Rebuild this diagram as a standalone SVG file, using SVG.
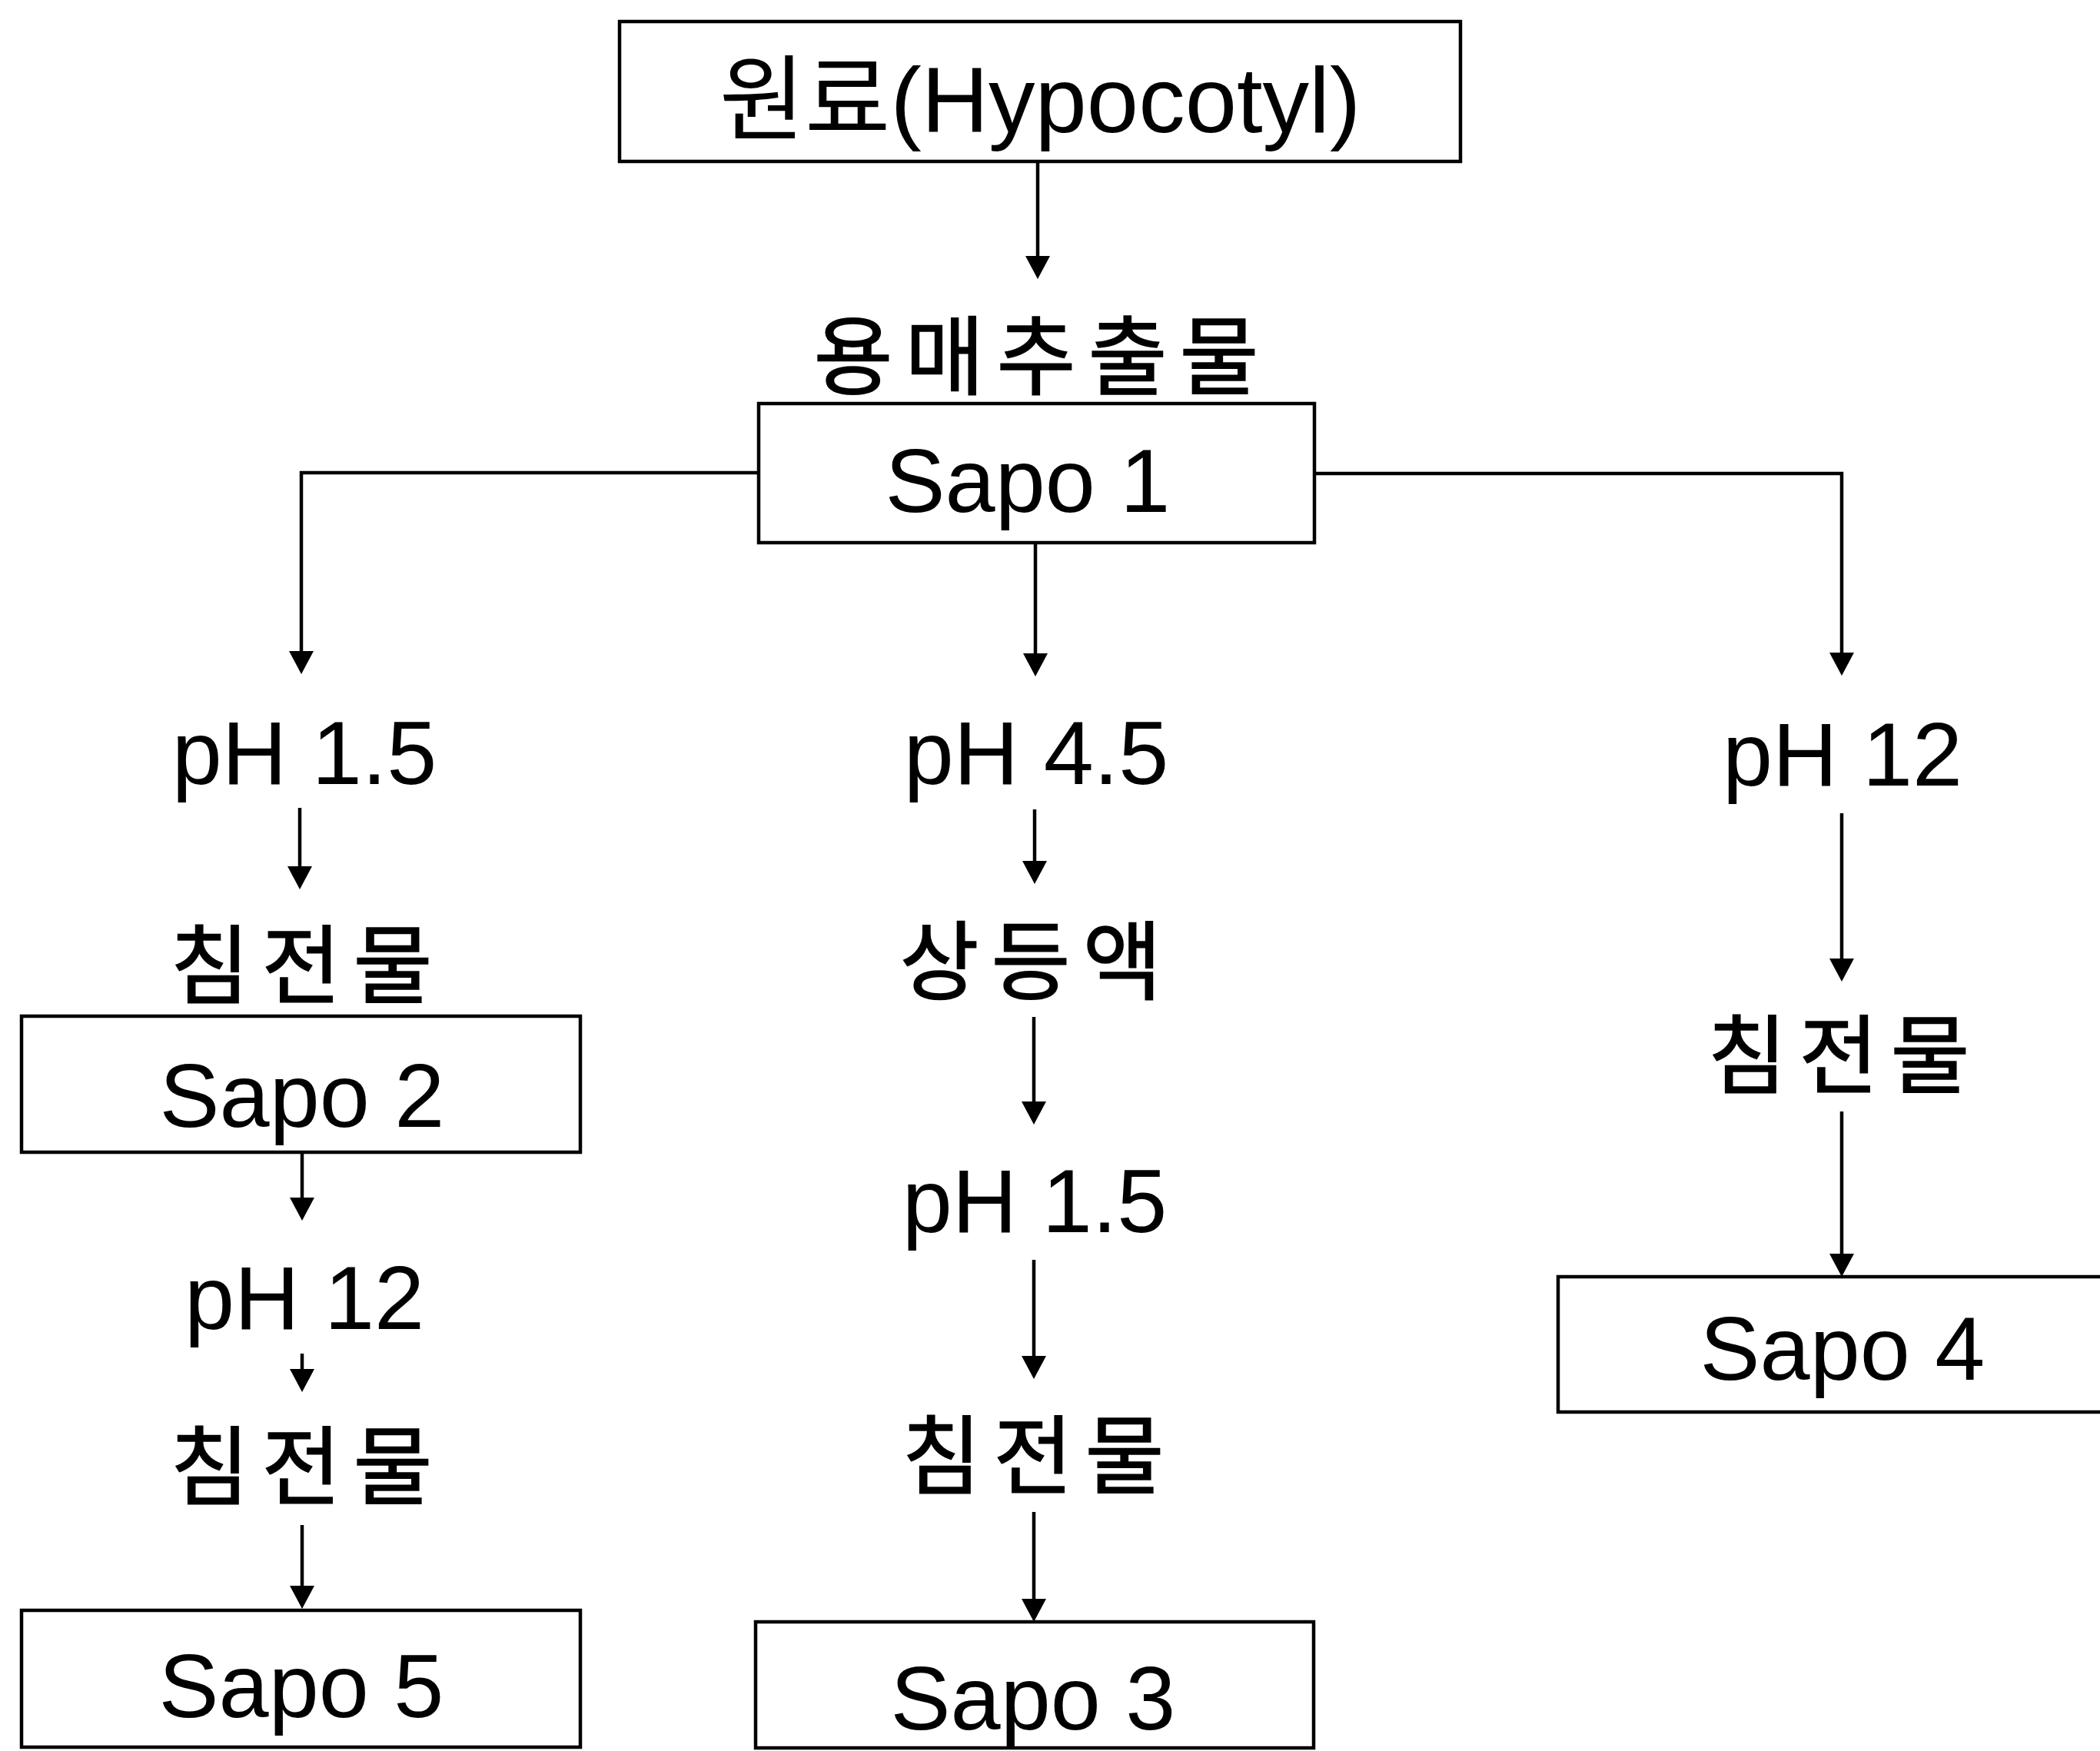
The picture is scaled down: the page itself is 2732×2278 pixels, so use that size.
<svg xmlns="http://www.w3.org/2000/svg" width="2732" height="2278" viewBox="0 0 2732 2278">
<defs>
<marker id="ah" viewBox="0 0 30 32" refX="10" refY="16" markerUnits="userSpaceOnUse" markerWidth="30" markerHeight="32" orient="auto">
<path d="M0,0 L30,16 L0,32 z" fill="#000"/>
</marker>
<style>
.box{fill:#fff;stroke:#000;stroke-width:4.5}
.lat{font-family:"Liberation Sans",Arial,sans-serif;font-size:117px;fill:#000;text-anchor:middle}
.kor{font-family:"Noto Sans CJK KR","Noto Sans",sans-serif;font-size:112px;fill:#000;text-anchor:middle;letter-spacing:16px;stroke:#000;stroke-width:1.5}
.top{font-family:"Liberation Sans","Noto Sans CJK KR",sans-serif;font-size:121px;fill:#000;text-anchor:middle}
.ca{fill:none;stroke:#000;stroke-width:4.5;marker-end:url(#ah)}
</style>
</defs>
<rect width="2732" height="2278" fill="#fff"/>

<g id="connectors">
<path class="ca" d="M1350,210 L1350,343"/>
<path class="ca" d="M987,615 L392,615 L392,857"/>
<path class="ca" d="M1347,706 L1347,860"/>
<path class="ca" d="M1710,616 L2396,616 L2396,859"/>
<path class="ca" d="M390,1051 L390,1137"/>
<path class="ca" d="M393,1499 L393,1568"/>
<path class="ca" d="M393,1761 L393,1791"/>
<path class="ca" d="M393,1984 L393,2073"/>
<path class="ca" d="M1346,1053 L1346,1130"/>
<path class="ca" d="M1345,1323 L1345,1443"/>
<path class="ca" d="M1345,1639 L1345,1774"/>
<path class="ca" d="M1345,1967 L1345,2090"/>
<path class="ca" d="M2396,1058 L2396,1257"/>
<path class="ca" d="M2396,1446 L2396,1641"/>
</g>

<g id="n-raw">
<rect class="box" x="806" y="28" width="1094" height="182"/>
<text class="top" x="1353" y="172">원료(Hypocotyl)</text>
</g>
<g id="n-solvent">
<text class="kor" x="1356" y="505">용매추출물</text>
</g>
<g id="n-sapo1">
<rect class="box" x="987" y="525" width="723" height="181"/>
<text class="lat" x="1337" y="666">Sapo 1</text>
</g>

<g id="n-ph15-left">
<text class="lat" x="396" y="1020">pH 1.5</text>
</g>
<g id="n-ppt-left1">
<text class="kor" x="400" y="1297">침전물</text>
</g>
<g id="n-sapo2">
<rect class="box" x="28" y="1322" width="727" height="177"/>
<text class="lat" x="393" y="1466">Sapo 2</text>
</g>
<g id="n-ph12-left">
<text class="lat" x="396" y="1729">pH 12</text>
</g>
<g id="n-ppt-left2">
<text class="kor" x="400" y="1949">침전물</text>
</g>
<g id="n-sapo5">
<rect class="box" x="28" y="2095" width="727" height="178"/>
<text class="lat" x="392" y="2234">Sapo 5</text>
</g>

<g id="n-ph45">
<text class="lat" x="1348" y="1020">pH 4.5</text>
</g>
<g id="n-supernatant">
<text class="kor" x="1349" y="1292">상등액</text>
</g>
<g id="n-ph15-mid">
<text class="lat" x="1346" y="1603">pH 1.5</text>
</g>
<g id="n-ppt-mid">
<text class="kor" x="1352" y="1935">침전물</text>
</g>
<g id="n-sapo3">
<rect class="box" x="983" y="2110" width="726" height="164"/>
<text class="lat" x="1344" y="2250">Sapo 3</text>
</g>

<g id="n-ph12-right">
<text class="lat" x="2397" y="1022">pH 12</text>
</g>
<g id="n-ppt-right">
<text class="kor" x="2400" y="1414">침전물</text>
</g>
<g id="n-sapo4">
<rect class="box" x="2027" y="1661" width="720" height="176"/>
<text class="lat" x="2397" y="1795">Sapo 4</text>
</g>
</svg>
